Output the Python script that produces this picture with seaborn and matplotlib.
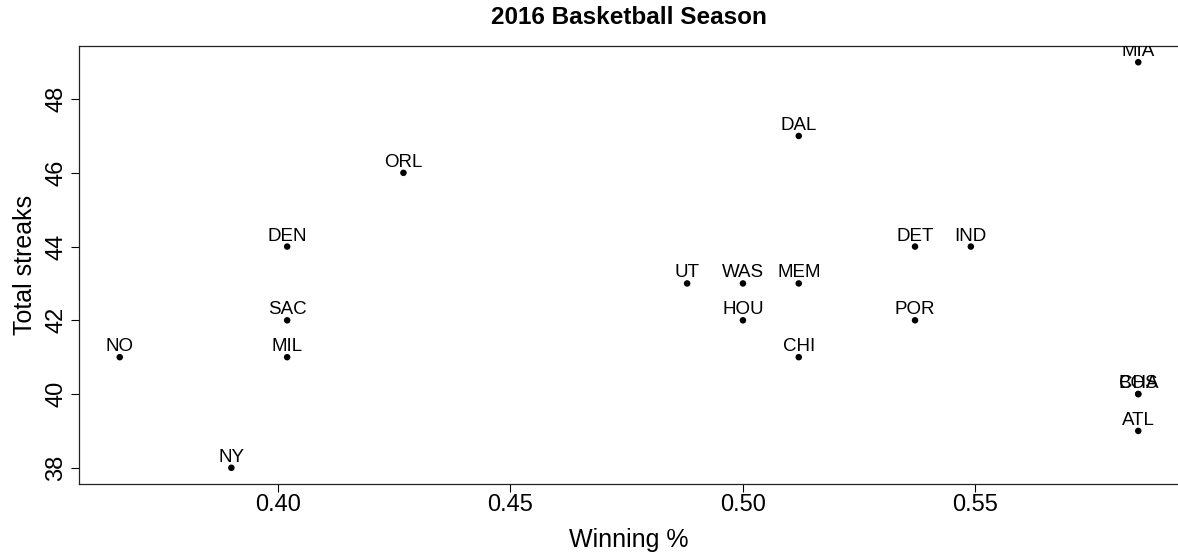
import matplotlib
matplotlib.use("Agg")
import matplotlib.pyplot as plt
import seaborn as sns
import pandas as pd

# 2016 season: winning percentage vs total streaks
teams = ["NO", "NY", "DEN", "SAC", "MIL", "ORL", "UT", "WAS", "HOU",
         "MEM", "DAL", "CHI", "DET", "POR", "IND", "ATL", "BOS", "CHA", "MIA"]
win_pct = [0.366, 0.390, 0.402, 0.402, 0.402, 0.427, 0.488, 0.500, 0.500,
           0.512, 0.512, 0.512, 0.537, 0.537, 0.549, 0.585, 0.585, 0.585, 0.585]
streaks = [41, 38, 44, 42, 41, 46, 43, 43, 42,
           43, 47, 41, 44, 42, 44, 39, 40, 40, 49]

x_ticks = [0.40, 0.45, 0.50, 0.55]
x_tick_labels = ["0.40", "0.45", "0.50", "0.55"]
y_ticks = [38, 40, 42, 44, 46, 48]

df = pd.DataFrame({"team": teams, "win_pct": win_pct, "streaks": streaks})

sns.set_theme(style="white")
plt.rcParams["font.family"] = ["Liberation Sans", "DejaVu Sans"]

fig = plt.figure(figsize=(11.78, 5.55), dpi=100)
ax = fig.add_axes([79 / 1178, 71 / 555, 1100 / 1178, 438 / 555])

sns.scatterplot(data=df, x="win_pct", y="streaks", ax=ax,
                color="black", s=22, edgecolor="none", legend=False)

for _, row in df.iterrows():
    ax.annotate(row["team"], (row["win_pct"], row["streaks"]),
                xytext=(0, 6), textcoords="offset pixels",
                ha="center", va="baseline", fontsize=13.5,
                color="black", clip_on=True)

# R-style 4% expansion of the data range
xr = max(win_pct) - min(win_pct)
yr = max(streaks) - min(streaks)
ax.set_xlim(min(win_pct) - 0.04 * xr, max(win_pct) + 0.04 * xr)
ax.set_ylim(min(streaks) - 0.04 * yr, max(streaks) + 0.04 * yr)

ax.set_xticks(x_ticks)
ax.set_xticklabels(x_tick_labels)
ax.set_yticks(y_ticks)
ax.set_yticklabels([str(v) for v in y_ticks], rotation=90, va="center")

ax.tick_params(axis="both", which="major", direction="out", length=5.5,
               width=0.8, color="black", labelsize=17, labelcolor="black",
               bottom=True, left=True)
ax.tick_params(axis="x", pad=1.5)
ax.tick_params(axis="y", pad=3)

for side in ["left", "bottom", "top", "right"]:
    ax.spines[side].set_visible(True)
    ax.spines[side].set_color("#222222")
    ax.spines[side].set_linewidth(0.9)

ax.grid(False)
ax.set_xlabel("Winning %", fontsize=18, color="black", labelpad=9)
ax.set_ylabel("Total streaks", fontsize=18, color="black", labelpad=6)
fig.text(629 / 1178, 1 - 18 / 555, "2016 Basketball Season", ha="center",
         va="center", fontsize=17.5, fontweight="bold", color="black")

fig.savefig("out.png", dpi=100)
